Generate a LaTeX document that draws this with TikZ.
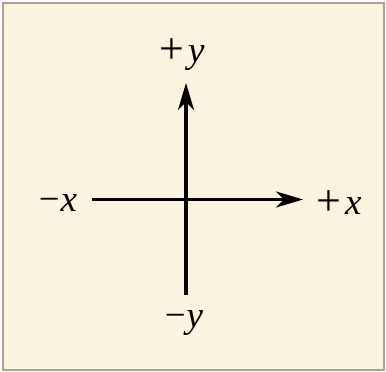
\documentclass[tikz,border=0pt]{standalone}
\usepackage{fontspec}
\setmainfont{Liberation Serif}
\usetikzlibrary{arrows.meta}
\definecolor{bgcream}{HTML}{FAF3DF}
\definecolor{framegray}{HTML}{A9A397}
\newcommand{\bigplus}{{\fontsize{44}{44}\selectfont\raisebox{-1pt}{+}}}
\tikzset{
  axis/.style={line width=3.4pt, -{Stealth[length=27pt,width=16pt,inset=8pt]}},
  plainaxis/.style={line width=3.4pt},
  lbl/.style={font=\fontsize{37}{40}\selectfont, inner sep=0pt}
}
\begin{document}
\begin{tikzpicture}[x=1pt,y=1pt]
\useasboundingbox (0,0) rectangle (386,372);
\draw[fill=bgcream, draw=framegray, line width=1.5pt] (3,2) rectangle (384,369);
\coordinate (L) at (92,172.5);
\coordinate (R) at (303,172.5);
\coordinate (T) at (186,289);
\coordinate (B) at (186,77);
\draw[plainaxis] (L) -- (186,172.5);
\draw[axis] (186,172.5) -- (R);
\draw[plainaxis] (B) -- (186,172.5);
\draw[axis] (186,172.5) -- (T);
\node[lbl] (py) at (182,317) {\bigplus\kern4pt\textit{y}};
\node[lbl] (my) at (184,49) {−\kern1pt\textit{y}};
\node[lbl] (mx) at (58,169) {−\kern1pt\textit{x}};
\node[lbl] (px) at (339,169) {\bigplus\kern4pt\textit{x}};
\end{tikzpicture}
\end{document}
